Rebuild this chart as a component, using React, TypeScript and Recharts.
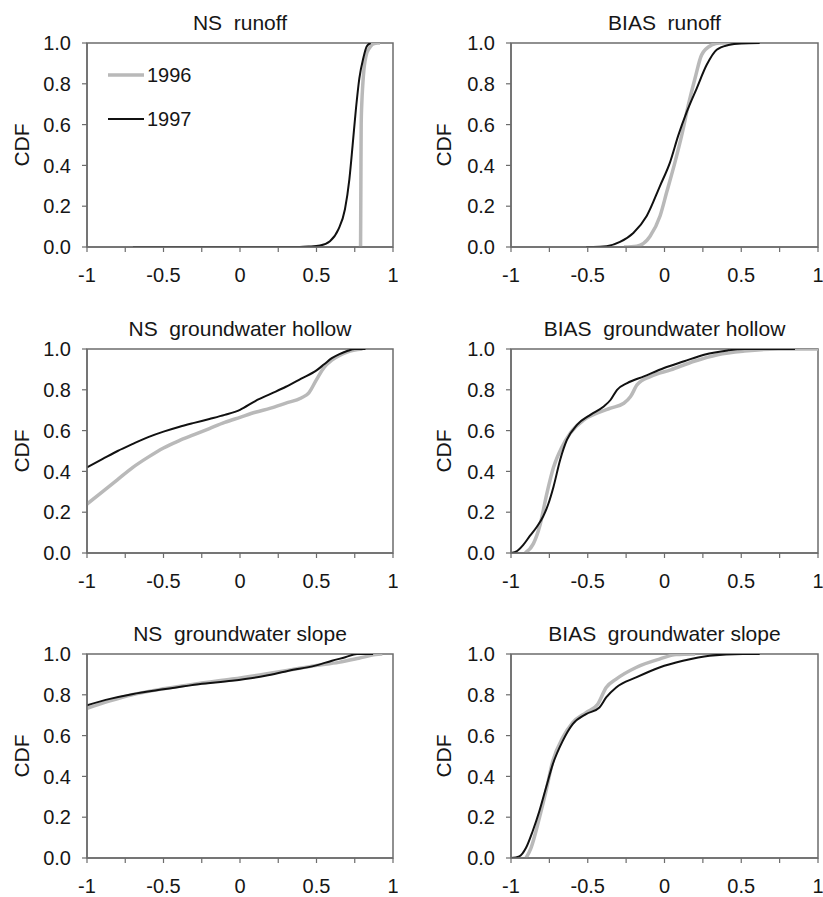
import React from 'react';
import { LineChart, Line, XAxis, YAxis, ReferenceArea, Legend } from 'recharts';

type Pt = [number, number];

const FONT = '"Liberation Sans", Arial, Helvetica, sans-serif';

const xTicks = [-1, -0.75, -0.5, -0.25, 0, 0.25, 0.5, 0.75, 1];
const yTicks = [0, 0.2, 0.4, 0.6, 0.8, 1];
const seriesNames = ['1996', '1997'];
const seriesColors = ['#b9b9b9', '#111111'];
const seriesWidths = [3.5, 2];

// NS runoff
const nsRunoff1996: Pt[] = [[0.788, 0], [0.790, 0.3], [0.792, 0.6], [0.797, 0.72], [0.802, 0.79], [0.810, 0.87], [0.817, 0.91], [0.828, 0.95], [0.839, 0.967], [0.855, 0.985], [0.871, 0.995], [0.9, 1.0], [0.915, 1.0]];
const nsRunoff1997: Pt[] = [[-0.7, 0], [0.39, 0], [0.45, 0.002], [0.523, 0.007], [0.588, 0.028], [0.643, 0.086], [0.686, 0.185], [0.715, 0.333], [0.736, 0.498], [0.758, 0.679], [0.78, 0.827], [0.806, 0.926], [0.828, 0.983], [0.854, 1.0]];

// BIAS runoff
const biasRunoff1996: Pt[] = [[-0.264, 0], [-0.181, 0.004], [-0.094, 0.053], [-0.029, 0.152], [0.014, 0.268], [0.068, 0.415], [0.112, 0.547], [0.155, 0.695], [0.199, 0.827], [0.242, 0.942], [0.307, 0.99], [0.36, 1.0], [0.43, 1.0]];
const biasRunoff1997: Pt[] = [[-0.51, 0], [-0.464, 0], [-0.377, 0.004], [-0.29, 0.025], [-0.203, 0.069], [-0.116, 0.152], [-0.029, 0.3], [0.036, 0.415], [0.09, 0.547], [0.145, 0.662], [0.21, 0.778], [0.275, 0.893], [0.34, 0.967], [0.416, 0.99], [0.5, 0.998], [0.62, 1.0]];

// NS groundwater hollow
const nsHollow1996: Pt[] = [[-1, 0.24], [-0.9, 0.3], [-0.8, 0.36], [-0.7, 0.42], [-0.6, 0.47], [-0.5, 0.515], [-0.4, 0.55], [-0.3, 0.58], [-0.2, 0.61], [-0.1, 0.64], [0, 0.665], [0.1, 0.69], [0.2, 0.71], [0.3, 0.735], [0.4, 0.76], [0.45, 0.785], [0.5, 0.85], [0.55, 0.91], [0.6, 0.945], [0.7, 0.985], [0.8, 1.0]];
const nsHollow1997: Pt[] = [[-1, 0.42], [-0.9, 0.46], [-0.8, 0.5], [-0.7, 0.535], [-0.6, 0.568], [-0.5, 0.595], [-0.4, 0.618], [-0.3, 0.638], [-0.2, 0.657], [-0.1, 0.677], [0, 0.702], [0.1, 0.745], [0.2, 0.78], [0.3, 0.815], [0.4, 0.855], [0.5, 0.895], [0.55, 0.925], [0.6, 0.955], [0.65, 0.975], [0.7, 0.99], [0.75, 1.0], [0.82, 1.0]];

// BIAS groundwater hollow
const biasHollow1996: Pt[] = [[-0.908, 0], [-0.854, 0.046], [-0.81, 0.14], [-0.767, 0.29], [-0.723, 0.42], [-0.668, 0.52], [-0.614, 0.587], [-0.527, 0.652], [-0.44, 0.685], [-0.352, 0.71], [-0.265, 0.734], [-0.221, 0.767], [-0.178, 0.825], [-0.09, 0.866], [0.04, 0.898], [0.193, 0.94], [0.346, 0.972], [0.52, 0.99], [0.74, 1.0], [1.0, 1.0]];
const biasHollow1997: Pt[] = [[-1, 0], [-0.96, 0.01], [-0.92, 0.04], [-0.876, 0.085], [-0.83, 0.13], [-0.79, 0.18], [-0.757, 0.24], [-0.723, 0.325], [-0.68, 0.456], [-0.636, 0.554], [-0.57, 0.628], [-0.483, 0.677], [-0.396, 0.718], [-0.352, 0.75], [-0.309, 0.8], [-0.243, 0.833], [-0.134, 0.866], [-0.003, 0.907], [0.128, 0.94], [0.258, 0.972], [0.411, 0.993], [0.52, 1.0], [0.85, 1.0]];

// NS groundwater slope
const nsSlope1996: Pt[] = [[-1, 0.734], [-0.85, 0.77], [-0.706, 0.8], [-0.488, 0.831], [-0.27, 0.856], [-0.052, 0.877], [0.166, 0.902], [0.318, 0.921], [0.492, 0.943], [0.645, 0.959], [0.776, 0.979], [0.885, 0.997], [0.93, 1.0]];
const nsSlope1997: Pt[] = [[-1, 0.749], [-0.85, 0.78], [-0.706, 0.803], [-0.488, 0.828], [-0.27, 0.852], [-0.052, 0.869], [0.166, 0.893], [0.318, 0.918], [0.492, 0.943], [0.601, 0.967], [0.688, 0.984], [0.765, 1.0], [0.87, 1.0]];

// BIAS groundwater slope
const biasSlope1996: Pt[] = [[-0.902, 0], [-0.87, 0.049], [-0.815, 0.197], [-0.772, 0.328], [-0.728, 0.475], [-0.663, 0.59], [-0.598, 0.664], [-0.511, 0.713], [-0.435, 0.754], [-0.38, 0.836], [-0.315, 0.877], [-0.185, 0.934], [-0.033, 0.975], [0.076, 0.997], [0.2, 1.0]];
const biasSlope1997: Pt[] = [[-1, 0], [-0.946, 0.008], [-0.902, 0.05], [-0.859, 0.131], [-0.815, 0.23], [-0.772, 0.344], [-0.728, 0.459], [-0.663, 0.574], [-0.598, 0.656], [-0.511, 0.705], [-0.424, 0.738], [-0.38, 0.787], [-0.315, 0.836], [-0.185, 0.885], [-0.033, 0.934], [0.12, 0.967], [0.293, 0.992], [0.51, 1.0], [0.62, 1.0]];

const titles = ['NS  runoff', 'BIAS  runoff', 'NS  groundwater hollow', 'BIAS  groundwater hollow', 'NS  groundwater slope', 'BIAS  groundwater slope'];

const toRows = (pts: Pt[]) => pts.map(([x, y]) => ({ x, y }));

const PLOT_H = 204;
const M_TOP = 10;
const X_AXIS_H = 40;
const AXIS_COLOR = '#6c6c6c';
const TEXT_COLOR = '#161616';

function CdfLabel(props: any) {
  const { cx, cy } = props;
  return (
    <text x={cx} y={cy} transform={`rotate(-90, ${cx}, ${cy})`} textAnchor="middle" fontSize={21} fontFamily={FONT} fill={TEXT_COLOR}>
      CDF
    </text>
  );
}

const renderLegend = () => (
  <div style={{ fontFamily: FONT, fontSize: 20, color: TEXT_COLOR }}>
    {seriesNames.map((name, i) => (
      <div key={name} style={{ display: 'flex', alignItems: 'center', height: 24, marginBottom: i === 0 ? 20 : 0 }}>
        <svg width={36} height={24} style={{ display: 'block' }}>
          <line x1={0} x2={36} y1={12} y2={12} stroke={seriesColors[i]} strokeWidth={seriesWidths[i]} />
        </svg>
        <span style={{ marginLeft: 3, lineHeight: '24px' }}>{name}</span>
      </div>
    ))}
  </div>
);

const fmtX = (v: number) => (Math.abs(v * 2 - Math.round(v * 2)) < 1e-9 ? String(v) : '');
const fmtY = (v: number) => v.toFixed(1);

function Panel(props: { left: number; plotTop: number; yAxisW: number; plotW: number; labelOff: number; title: string; d96: Pt[]; d97: Pt[]; legend?: boolean }) {
  const { left, plotTop, yAxisW, plotW, labelOff, title, d96, d97, legend } = props;
  const W = yAxisW + plotW + 5;
  const H = M_TOP + PLOT_H + X_AXIS_H;
  const all = [d96, d97];
  return (
    <div style={{ position: 'absolute', left, top: plotTop - M_TOP, width: W, height: H }}>
      <div style={{ position: 'absolute', left: yAxisW, width: plotW, top: -21, textAlign: 'center', fontFamily: FONT, fontSize: 21, lineHeight: '21px', color: TEXT_COLOR, whiteSpace: 'pre' }}>
        {title}
      </div>
      <LineChart width={W} height={H} margin={{ top: M_TOP, right: 5, bottom: 0, left: 0 }}>
        <XAxis
          type="number"
          dataKey="x"
          domain={[-1, 1]}
          ticks={xTicks}
          interval={0}
          allowDataOverflow
          tickFormatter={fmtX}
          tickSize={5}
          tickMargin={16}
          height={X_AXIS_H}
          tick={{ fill: TEXT_COLOR, fontSize: 20, fontFamily: FONT }}
          axisLine={{ stroke: AXIS_COLOR, strokeWidth: 1.5 }}
          tickLine={{ stroke: AXIS_COLOR, strokeWidth: 1.2 }}
        />
        <YAxis
          type="number"
          domain={[0, 1]}
          ticks={yTicks}
          interval={0}
          allowDataOverflow
          width={yAxisW}
          tickFormatter={fmtY}
          tickSize={5}
          tickMargin={11}
          tick={{ fill: TEXT_COLOR, fontSize: 20, fontFamily: FONT }}
          axisLine={{ stroke: AXIS_COLOR, strokeWidth: 1.5 }}
          tickLine={{ stroke: AXIS_COLOR, strokeWidth: 1.2 }}
          label={<CdfLabel cx={yAxisW - labelOff} cy={M_TOP + PLOT_H / 2} />}
        />
        <ReferenceArea x1={-1} x2={1} y1={0} y2={1} fill="none" fillOpacity={0} stroke={AXIS_COLOR} strokeWidth={1.5} ifOverflow="visible" />
        {all.map((d, i) => (
          <Line
            key={seriesNames[i]}
            data={toRows(d)}
            dataKey="y"
            name={seriesNames[i]}
            type="monotone"
            stroke={seriesColors[i]}
            strokeWidth={seriesWidths[i]}
            dot={false}
            activeDot={false}
            isAnimationActive={false}
          />
        ))}
        {legend && (
          <Legend
            layout="vertical"
            align="center"
            verticalAlign="middle"
            content={renderLegend}
            wrapperStyle={{ left: 108, top: 30, width: 'auto', height: 'auto' }}
          />
        )}
      </LineChart>
    </div>
  );
}

const rowTops = [43, 349, 654];
const panelData: [Pt[], Pt[]][] = [
  [nsRunoff1996, nsRunoff1997],
  [biasRunoff1996, biasRunoff1997],
  [nsHollow1996, nsHollow1997],
  [biasHollow1996, biasHollow1997],
  [nsSlope1996, nsSlope1997],
  [biasSlope1996, biasSlope1997],
];

export default function App() {
  return (
    <div style={{ position: 'absolute', left: 0, top: 0, width: 823, height: 897, background: '#fff', overflow: 'hidden' }}>
      {panelData.map(([d96, d97], i) => {
        const col = i % 2;
        const row = Math.floor(i / 2);
        return (
          <Panel
            key={titles[i]}
            left={col === 0 ? 0 : 411}
            plotTop={rowTops[row]}
            yAxisW={col === 0 ? 87 : 100}
            plotW={col === 0 ? 306 : 307}
            labelOff={col === 0 ? 58 : 60}
            title={titles[i]}
            d96={d96}
            d97={d97}
            legend={i === 0}
          />
        );
      })}
    </div>
  );
}
